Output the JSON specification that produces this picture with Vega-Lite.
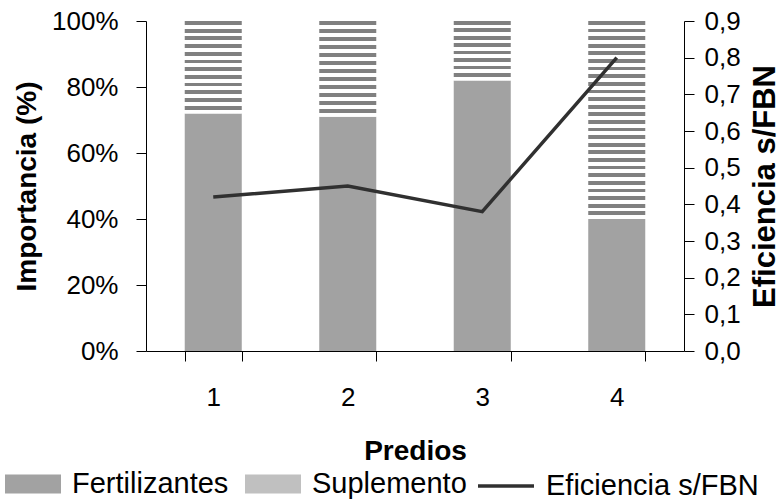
{
  "$schema": "https://vega.github.io/schema/vega-lite/v6.json",
  "width": 538,
  "height": 330,
  "autosize": "none",
  "padding": {"left": 146, "top": 21, "right": 99, "bottom": 149},
  "background": "white",
  "config": {
    "font": "Liberation Sans",
    "view": {"stroke": null},
    "axis": {
      "grid": false,
      "domainColor": "black",
      "tickColor": "black",
      "labelColor": "black",
      "titleColor": "black",
      "labelFontSize": 26,
      "titleFontSize": 28,
      "titleFontWeight": "bold",
      "tickSize": 10
    },
    "legend": {
      "labelFontSize": 29,
      "labelColor": "black",
      "labelFont": "Liberation Sans",
      "labelLimit": 400
    }
  },
  "datasets": {
    "importancia": [
      {"predio": 1, "componente": "Fertilizantes", "valor": 0.72},
      {"predio": 1, "componente": "Suplemento", "valor": 0.28},
      {"predio": 2, "componente": "Fertilizantes", "valor": 0.71},
      {"predio": 2, "componente": "Suplemento", "valor": 0.29},
      {"predio": 3, "componente": "Fertilizantes", "valor": 0.82},
      {"predio": 3, "componente": "Suplemento", "valor": 0.18},
      {"predio": 4, "componente": "Fertilizantes", "valor": 0.40},
      {"predio": 4, "componente": "Suplemento", "valor": 0.60}
    ],
    "eficiencia": [
      {"predio": 1, "serie": "Eficiencia s/FBN", "eficiencia": 0.42},
      {"predio": 2, "serie": "Eficiencia s/FBN", "eficiencia": 0.45},
      {"predio": 3, "serie": "Eficiencia s/FBN", "eficiencia": 0.38},
      {"predio": 4, "serie": "Eficiencia s/FBN", "eficiencia": 0.80}
    ]
  },
  "encoding": {
    "x": {
      "field": "predio",
      "type": "ordinal",
      "scale": {"paddingInner": 0.576, "paddingOuter": 0.288},
      "axis": {
        "title": "Predios",
        "labelAngle": 0,
        "tickBand": "extent",
        "labelPadding": 23,
        "titlePadding": 27
      }
    }
  },
  "layer": [
    {
      "data": {"name": "importancia"},
      "mark": {"type": "bar", "strokeWidth": 0},
      "encoding": {
        "y": {
          "field": "valor",
          "type": "quantitative",
          "stack": "zero",
          "scale": {"domain": [0, 1], "nice": false},
          "axis": {
            "title": "Importancia (%)",
            "values": [0, 0.2, 0.4, 0.6, 0.8, 1],
            "format": ".0%",
            "labelPadding": 18,
            "titlePadding": 10
          }
        },
        "order": {"field": "componente", "sort": "ascending"},
        "color": {
          "condition": [
            {
              "test": "datum.componente === 'Suplemento' && datum.predio <= 2",
              "value": {
                "gradient": "linear", "x1": 0, "y1": 0, "x2": 0, "y2": 1,
                "stops": [
                  {"offset": 0, "color": "#808080"}, {"offset": 0.0417, "color": "#808080"}, {"offset": 0.0417, "color": "#ffffff"}, {"offset": 0.0833, "color": "#ffffff"},
                  {"offset": 0.0833, "color": "#808080"}, {"offset": 0.125, "color": "#808080"}, {"offset": 0.125, "color": "#ffffff"}, {"offset": 0.1667, "color": "#ffffff"},
                  {"offset": 0.1667, "color": "#808080"}, {"offset": 0.2083, "color": "#808080"}, {"offset": 0.2083, "color": "#ffffff"}, {"offset": 0.25, "color": "#ffffff"},
                  {"offset": 0.25, "color": "#808080"}, {"offset": 0.2917, "color": "#808080"}, {"offset": 0.2917, "color": "#ffffff"}, {"offset": 0.3333, "color": "#ffffff"},
                  {"offset": 0.3333, "color": "#808080"}, {"offset": 0.375, "color": "#808080"}, {"offset": 0.375, "color": "#ffffff"}, {"offset": 0.4167, "color": "#ffffff"},
                  {"offset": 0.4167, "color": "#808080"}, {"offset": 0.4583, "color": "#808080"}, {"offset": 0.4583, "color": "#ffffff"}, {"offset": 0.5, "color": "#ffffff"},
                  {"offset": 0.5, "color": "#808080"}, {"offset": 0.5417, "color": "#808080"}, {"offset": 0.5417, "color": "#ffffff"}, {"offset": 0.5833, "color": "#ffffff"},
                  {"offset": 0.5833, "color": "#808080"}, {"offset": 0.625, "color": "#808080"}, {"offset": 0.625, "color": "#ffffff"}, {"offset": 0.6667, "color": "#ffffff"},
                  {"offset": 0.6667, "color": "#808080"}, {"offset": 0.7083, "color": "#808080"}, {"offset": 0.7083, "color": "#ffffff"}, {"offset": 0.75, "color": "#ffffff"},
                  {"offset": 0.75, "color": "#808080"}, {"offset": 0.7917, "color": "#808080"}, {"offset": 0.7917, "color": "#ffffff"}, {"offset": 0.8333, "color": "#ffffff"},
                  {"offset": 0.8333, "color": "#808080"}, {"offset": 0.875, "color": "#808080"}, {"offset": 0.875, "color": "#ffffff"}, {"offset": 0.9167, "color": "#ffffff"},
                  {"offset": 0.9167, "color": "#808080"}, {"offset": 0.9583, "color": "#808080"}, {"offset": 0.9583, "color": "#ffffff"}, {"offset": 1, "color": "#ffffff"}
                ]
              }
            },
            {
              "test": "datum.componente === 'Suplemento' && datum.predio === 3",
              "value": {
                "gradient": "linear", "x1": 0, "y1": 0, "x2": 0, "y2": 1,
                "stops": [
                  {"offset": 0, "color": "#808080"}, {"offset": 0.0625, "color": "#808080"}, {"offset": 0.0625, "color": "#ffffff"}, {"offset": 0.125, "color": "#ffffff"},
                  {"offset": 0.125, "color": "#808080"}, {"offset": 0.1875, "color": "#808080"}, {"offset": 0.1875, "color": "#ffffff"}, {"offset": 0.25, "color": "#ffffff"},
                  {"offset": 0.25, "color": "#808080"}, {"offset": 0.3125, "color": "#808080"}, {"offset": 0.3125, "color": "#ffffff"}, {"offset": 0.375, "color": "#ffffff"},
                  {"offset": 0.375, "color": "#808080"}, {"offset": 0.4375, "color": "#808080"}, {"offset": 0.4375, "color": "#ffffff"}, {"offset": 0.5, "color": "#ffffff"},
                  {"offset": 0.5, "color": "#808080"}, {"offset": 0.5625, "color": "#808080"}, {"offset": 0.5625, "color": "#ffffff"}, {"offset": 0.625, "color": "#ffffff"},
                  {"offset": 0.625, "color": "#808080"}, {"offset": 0.6875, "color": "#808080"}, {"offset": 0.6875, "color": "#ffffff"}, {"offset": 0.75, "color": "#ffffff"},
                  {"offset": 0.75, "color": "#808080"}, {"offset": 0.8125, "color": "#808080"}, {"offset": 0.8125, "color": "#ffffff"}, {"offset": 0.875, "color": "#ffffff"},
                  {"offset": 0.875, "color": "#808080"}, {"offset": 0.9375, "color": "#808080"}, {"offset": 0.9375, "color": "#ffffff"}, {"offset": 1, "color": "#ffffff"}
                ]
              }
            },
            {
              "test": "datum.componente === 'Suplemento' && datum.predio === 4",
              "value": {
                "gradient": "linear", "x1": 0, "y1": 0, "x2": 0, "y2": 1,
                "stops": [
                  {"offset": 0, "color": "#808080"}, {"offset": 0.01923, "color": "#808080"}, {"offset": 0.01923, "color": "#ffffff"}, {"offset": 0.03846, "color": "#ffffff"},
                  {"offset": 0.03846, "color": "#808080"}, {"offset": 0.05769, "color": "#808080"}, {"offset": 0.05769, "color": "#ffffff"}, {"offset": 0.07692, "color": "#ffffff"},
                  {"offset": 0.07692, "color": "#808080"}, {"offset": 0.09615, "color": "#808080"}, {"offset": 0.09615, "color": "#ffffff"}, {"offset": 0.11538, "color": "#ffffff"},
                  {"offset": 0.11538, "color": "#808080"}, {"offset": 0.13462, "color": "#808080"}, {"offset": 0.13462, "color": "#ffffff"}, {"offset": 0.15385, "color": "#ffffff"},
                  {"offset": 0.15385, "color": "#808080"}, {"offset": 0.17308, "color": "#808080"}, {"offset": 0.17308, "color": "#ffffff"}, {"offset": 0.19231, "color": "#ffffff"},
                  {"offset": 0.19231, "color": "#808080"}, {"offset": 0.21154, "color": "#808080"}, {"offset": 0.21154, "color": "#ffffff"}, {"offset": 0.23077, "color": "#ffffff"},
                  {"offset": 0.23077, "color": "#808080"}, {"offset": 0.25, "color": "#808080"}, {"offset": 0.25, "color": "#ffffff"}, {"offset": 0.26923, "color": "#ffffff"},
                  {"offset": 0.26923, "color": "#808080"}, {"offset": 0.28846, "color": "#808080"}, {"offset": 0.28846, "color": "#ffffff"}, {"offset": 0.30769, "color": "#ffffff"},
                  {"offset": 0.30769, "color": "#808080"}, {"offset": 0.32692, "color": "#808080"}, {"offset": 0.32692, "color": "#ffffff"}, {"offset": 0.34615, "color": "#ffffff"},
                  {"offset": 0.34615, "color": "#808080"}, {"offset": 0.36538, "color": "#808080"}, {"offset": 0.36538, "color": "#ffffff"}, {"offset": 0.38462, "color": "#ffffff"},
                  {"offset": 0.38462, "color": "#808080"}, {"offset": 0.40385, "color": "#808080"}, {"offset": 0.40385, "color": "#ffffff"}, {"offset": 0.42308, "color": "#ffffff"},
                  {"offset": 0.42308, "color": "#808080"}, {"offset": 0.44231, "color": "#808080"}, {"offset": 0.44231, "color": "#ffffff"}, {"offset": 0.46154, "color": "#ffffff"},
                  {"offset": 0.46154, "color": "#808080"}, {"offset": 0.48077, "color": "#808080"}, {"offset": 0.48077, "color": "#ffffff"}, {"offset": 0.5, "color": "#ffffff"},
                  {"offset": 0.5, "color": "#808080"}, {"offset": 0.51923, "color": "#808080"}, {"offset": 0.51923, "color": "#ffffff"}, {"offset": 0.53846, "color": "#ffffff"},
                  {"offset": 0.53846, "color": "#808080"}, {"offset": 0.55769, "color": "#808080"}, {"offset": 0.55769, "color": "#ffffff"}, {"offset": 0.57692, "color": "#ffffff"},
                  {"offset": 0.57692, "color": "#808080"}, {"offset": 0.59615, "color": "#808080"}, {"offset": 0.59615, "color": "#ffffff"}, {"offset": 0.61538, "color": "#ffffff"},
                  {"offset": 0.61538, "color": "#808080"}, {"offset": 0.63462, "color": "#808080"}, {"offset": 0.63462, "color": "#ffffff"}, {"offset": 0.65385, "color": "#ffffff"},
                  {"offset": 0.65385, "color": "#808080"}, {"offset": 0.67308, "color": "#808080"}, {"offset": 0.67308, "color": "#ffffff"}, {"offset": 0.69231, "color": "#ffffff"},
                  {"offset": 0.69231, "color": "#808080"}, {"offset": 0.71154, "color": "#808080"}, {"offset": 0.71154, "color": "#ffffff"}, {"offset": 0.73077, "color": "#ffffff"},
                  {"offset": 0.73077, "color": "#808080"}, {"offset": 0.75, "color": "#808080"}, {"offset": 0.75, "color": "#ffffff"}, {"offset": 0.76923, "color": "#ffffff"},
                  {"offset": 0.76923, "color": "#808080"}, {"offset": 0.78846, "color": "#808080"}, {"offset": 0.78846, "color": "#ffffff"}, {"offset": 0.80769, "color": "#ffffff"},
                  {"offset": 0.80769, "color": "#808080"}, {"offset": 0.82692, "color": "#808080"}, {"offset": 0.82692, "color": "#ffffff"}, {"offset": 0.84615, "color": "#ffffff"},
                  {"offset": 0.84615, "color": "#808080"}, {"offset": 0.86538, "color": "#808080"}, {"offset": 0.86538, "color": "#ffffff"}, {"offset": 0.88462, "color": "#ffffff"},
                  {"offset": 0.88462, "color": "#808080"}, {"offset": 0.90385, "color": "#808080"}, {"offset": 0.90385, "color": "#ffffff"}, {"offset": 0.92308, "color": "#ffffff"},
                  {"offset": 0.92308, "color": "#808080"}, {"offset": 0.94231, "color": "#808080"}, {"offset": 0.94231, "color": "#ffffff"}, {"offset": 0.96154, "color": "#ffffff"},
                  {"offset": 0.96154, "color": "#808080"}, {"offset": 0.98077, "color": "#808080"}, {"offset": 0.98077, "color": "#ffffff"}, {"offset": 1, "color": "#ffffff"}
                ]
              }
            }
          ],
          "field": "componente",
          "type": "nominal",
          "scale": {"domain": ["Fertilizantes", "Suplemento"], "range": ["#a2a2a2", "#c0c0c0"]},
          "legend": {
            "title": null,
            "orient": "none",
            "direction": "horizontal",
            "columns": 2,
            "legendX": -141,
            "legendY": 435,
            "symbolType": "M-1,-0.34H1V0.34H-1Z",
            "symbolSize": 3136,
            "symbolStrokeWidth": 0,
            "labelOffset": 11,
            "columnPadding": 16
          }
        }
      }
    },
    {
      "data": {"name": "eficiencia"},
      "mark": {"type": "line", "strokeWidth": 3.5},
      "encoding": {
        "y": {
          "field": "eficiencia",
          "type": "quantitative",
          "scale": {"domain": [0, 0.9], "nice": false},
          "axis": {
            "orient": "right",
            "title": "Eficiencia s/FBN",
            "titleAngle": 270,
            "titleFontSize": 31,
            "titleX": 81,
            "titleY": 165,
            "titleAlign": "center",
            "titleBaseline": "middle",
            "values": [0, 0.1, 0.2, 0.3, 0.4, 0.5, 0.6, 0.7, 0.8, 0.9],
            "labelExpr": "replace(format(datum.value, '.1f'), '.', ',')",
            "labelPadding": 10
          }
        },
        "stroke": {
          "field": "serie",
          "type": "nominal",
          "scale": {"range": ["#303030"]},
          "legend": {
            "title": null,
            "orient": "none",
            "legendX": 330,
            "legendY": 435,
            "symbolType": "stroke",
            "symbolSize": 3136,
            "symbolStrokeWidth": 3.5,
            "labelOffset": 10
          }
        }
      }
    }
  ],
  "resolve": {"scale": {"y": "independent"}}
}
